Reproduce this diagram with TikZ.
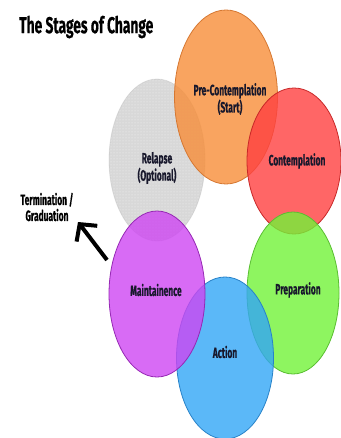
\documentclass[tikz,border=0pt]{standalone}
\usepackage{fontspec}
\setmainfont{Fira Sans}[FakeStretch=0.66]
\newfontfamily\titlefont{Fira Sans}[FakeStretch=0.6, FakeBold=0.4]
\newfontfamily\labelfont{Fira Sans}[FakeStretch=0.56, FakeBold=0.5]
\usetikzlibrary{shapes.geometric,arrows.meta,patterns}

\definecolor{orangefill}{RGB}{247,141,56}
\definecolor{orangeline}{RGB}{214,120,50}
\definecolor{redfill}{RGB}{255,64,64}
\definecolor{redline}{RGB}{200,40,40}
\definecolor{greenfill}{RGB}{114,242,56}
\definecolor{greenline}{RGB}{90,190,50}
\definecolor{bluefill}{RGB}{50,166,246}
\definecolor{blueline}{RGB}{40,130,200}
\definecolor{purplefill}{RGB}{206,70,242}
\definecolor{purpleline}{RGB}{150,40,180}
\definecolor{grayfill}{RGB}{206,206,206}
\definecolor{labelink}{RGB}{24,24,44}

\tikzset{
  stage/.style={ellipse, inner sep=0pt, minimum width=96pt, minimum height=162pt,
    line width=0.8pt, fill opacity=0.8},
  stagelabel/.style={font=\labelfont\bfseries\fontsize{15}{16}\selectfont, text=labelink,
    align=center, inner sep=1pt},
  heading/.style={font=\titlefont\bfseries\fontsize{23}{26}\selectfont, text=black, anchor=west, inner sep=0pt},
  exitarrow/.style={line width=4pt,
    -{Straight Barb[length=12pt,width=26pt,line width=4pt]}}
}

\begin{document}
\begin{tikzpicture}[x=1pt,y=-1pt]
  \useasboundingbox (0,0) rectangle (340,438);

  % the six stages, drawn back to front
  \node[stage, fill=grayfill, draw=grayfill!85!black, draw opacity=0.3,
        postaction={pattern=dots, pattern color=white}] (relapse) at (157,160) {};
  \node[stage, fill=orangefill, draw=orangeline, minimum height=174pt, minimum width=103pt] (precont) at (226,97) {};
  \node[stage, fill=redfill, draw=redline, minimum height=146pt, minimum width=94pt] (cont) at (294,161) {};
  \node[stage, fill=greenfill, draw=greenline, minimum width=92pt] (prep) at (293,293) {};
  \node[stage, fill=bluefill, draw=blueline, minimum width=97pt] (action) at (225,358) {};
  \node[stage, fill=purplefill, draw=purpleline, minimum height=166pt] (maint) at (157,294) {};

  % stage names
  \node[stagelabel] at (230,99) {Pre-Contemplation\\(Start)};
  \node[stagelabel] at (157,168) {Relapse\\(Optional)};
  \node[stagelabel] at (297,161) {Contemplation};
  \node[stagelabel] at (298,290) {Preparation};
  \node[stagelabel] at (225,352) {Action};
  \node[stagelabel] at (156,290) {Maintainence};

  % title
  \node[heading] (title) at (19,27) {The Stages of Change};

  % exit from the cycle
  \node[stagelabel, text=black] (term) at (47,207) {Termination /\\Graduation};
  \coordinate (exitstart) at (107,260);
  \coordinate (exitend) at (78,222);
  \draw[exitarrow] (exitstart) -- (exitend);
\end{tikzpicture}
\end{document}
